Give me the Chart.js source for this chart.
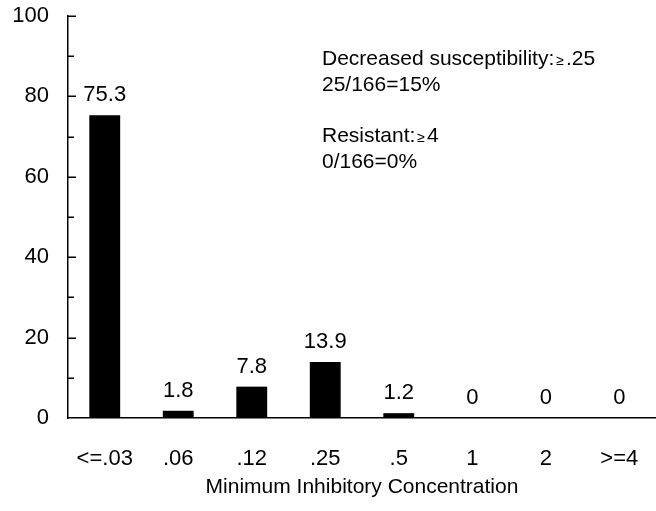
<!DOCTYPE html>
<html>
<head>
<meta charset="utf-8">
<script src="https://cdn.jsdelivr.net/npm/chart.js@4/dist/chart.umd.min.js"></script>
<style>
  html, body { margin: 0; padding: 0; background: #fff; }
  #wrap { width: 656px; height: 511px; position: relative; }
</style>
</head>
<body>
<div id="wrap"><canvas id="c" width="656" height="511"></canvas></div>
<script>
// ---- data ----
const categories = ['<=.03', '.06', '.12', '.25', '.5', '1', '2', '>=4'];
const percentages = [75.3, 1.8, 7.8, 13.9, 1.2, 0, 0, 0];
const yMin = 0;
const yMax = 100;
const yLabelStep = 20;
const yMinorStep = 10;
const xAxisTitle = 'Minimum Inhibitory Concentration';
// annotation lines: each an array of [text, isSmallSymbol]
const annotationLines = [
  [['Decreased susceptibility:', false], ['\u2265', true], ['.25', false]],
  [['25/166=15%', false]],
  [],
  [['Resistant:', false], ['\u2265', true], ['4', false]],
  [['0/166=0%', false]]
];

const FONT = "'Liberation Sans', Arial, sans-serif";

const innerTicks = {
  id: 'innerTicks',
  afterDraw(chart) {
    const y = chart.scales.y;
    const ctx = chart.ctx;
    const left = chart.chartArea.left;
    ctx.save();
    ctx.strokeStyle = '#000';
    ctx.lineWidth = 1.5;
    for (let v = yMin + yMinorStep; v <= yMax; v += yMinorStep) {
      const py = Math.round(y.getPixelForValue(v)) + 0.25;
      const len = (v % yLabelStep === 0) ? 8 : 6;
      ctx.beginPath();
      ctx.moveTo(left, py);
      ctx.lineTo(left + len, py);
      ctx.stroke();
    }
    ctx.restore();
  }
};

const valueLabels = {
  id: 'valueLabels',
  afterDatasetsDraw(chart) {
    const ctx = chart.ctx;
    const meta = chart.getDatasetMeta(0);
    ctx.save();
    ctx.fillStyle = '#000';
    ctx.font = '22px ' + FONT;
    ctx.textAlign = 'center';
    ctx.textBaseline = 'alphabetic';
    meta.data.forEach((bar, i) => {
      ctx.fillText(String(percentages[i]), bar.x, bar.y - 14);
    });
    ctx.restore();
  }
};

const annotation = {
  id: 'annotation',
  afterDraw(chart) {
    const ctx = chart.ctx;
    const x0 = 322;
    const baseY = 65;
    const lineH = 25.8;
    ctx.save();
    ctx.fillStyle = '#000';
    ctx.textBaseline = 'alphabetic';
    ctx.textAlign = 'left';
    annotationLines.forEach((segs, li) => {
      let x = x0;
      const yy = baseY + li * lineH;
      segs.forEach(([txt, small]) => {
        ctx.font = (small ? '14px ' : '21px ') + FONT;
        if (small) x += 2;
        ctx.fillText(txt, x, yy);
        x += ctx.measureText(txt).width;
        if (small) x += 2;
      });
    });
    ctx.restore();
  }
};

new Chart(document.getElementById('c'), {
  type: 'bar',
  data: {
    labels: categories,
    datasets: [{
      data: percentages,
      backgroundColor: '#000',
      borderWidth: 0,
      barPercentage: 0.42,
      categoryPercentage: 1
    }]
  },
  options: {
    responsive: false,
    animation: false,
    devicePixelRatio: 1,
    layout: { padding: { top: 16, right: 0, bottom: 0, left: 0 } },
    plugins: { legend: { display: false }, tooltip: { enabled: false } },
    scales: {
      x: {
        grid: { display: true, drawOnChartArea: false, drawTicks: false },
        border: { display: true, color: '#000', width: 1.5 },
        ticks: { color: '#000', font: { size: 22, family: FONT }, padding: 28, maxRotation: 0 },
        title: { display: true, text: xAxisTitle, color: '#000', font: { size: 21, family: FONT }, padding: { top: 0, bottom: 11 } },
        afterFit(scale) { scale.height = 93; scale.paddingLeft = 0; scale.paddingRight = 0; }
      },
      y: {
        min: yMin,
        max: yMax,
        grid: { display: true, drawOnChartArea: false, drawTicks: false },
        border: { display: true, color: '#000', width: 1.5 },
        ticks: { stepSize: yLabelStep, color: '#000', font: { size: 22, family: FONT }, padding: 19 },
        afterFit(scale) { scale.width = 68; scale.paddingTop = 0; scale.paddingBottom = 0; }
      }
    }
  },
  plugins: [innerTicks, valueLabels, annotation]
});
</script>
</body>
</html>
